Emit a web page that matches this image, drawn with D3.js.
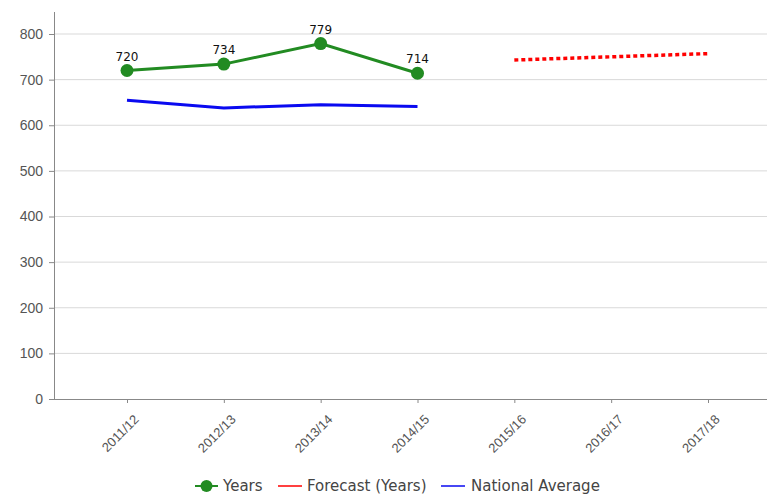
<!DOCTYPE html>
<html>
<head>
<meta charset="utf-8">
<script src="https://cdn.jsdelivr.net/npm/d3@7"></script>
<style>
  html, body { margin: 0; padding: 0; background: #fff; }
  svg { display: block; font-family: "DejaVu Sans", Verdana, sans-serif; }
</style>
</head>
<body>
<svg id="chart" width="767" height="495"></svg>
<script>
// Financial years on the category axis
const categories = ["2011/12", "2012/13", "2013/14", "2014/15", "2015/16", "2016/17", "2017/18"];
// Actual values (with point labels)
const yearsValues = [720, 734, 779, 714, null, null, null];
// Projected values
const forecastValues = [null, null, null, null, 743, 750, 757];
// National comparison
const nationalValues = [655, 638, 645, 641, null, null, null];
// Value axis ticks
const yTicks = [0, 100, 200, 300, 400, 500, 600, 700, 800];

(function () {
const svg = d3.select("#chart");
const plotLeft = 54, plotBottom = 399, plotTop = 12;

const x = d3.scalePoint().domain(categories).range([127, 708]);
const y = d3.scaleLinear().domain([0, 800]).range([plotBottom, 34]);

// Horizontal gridlines
svg.append("g").selectAll("line").data(yTicks.filter(d => d > 0)).join("line")
  .attr("x1", plotLeft).attr("x2", 767)
  .attr("y1", d => y(d)).attr("y2", d => y(d))
  .attr("stroke", "#d9d9d9").attr("stroke-width", 1);

// Y axis
const yAxis = svg.append("g").attr("transform", `translate(${plotLeft},0)`)
  .call(d3.axisLeft(y).tickValues(yTicks).tickSize(5).tickPadding(6));
yAxis.select(".domain").remove();
yAxis.selectAll(".tick line").attr("stroke", "#888");
yAxis.selectAll("text").attr("fill", "#555").attr("font-size", 14);
svg.append("line").attr("x1", plotLeft + 0.5).attr("x2", plotLeft + 0.5)
  .attr("y1", plotTop).attr("y2", plotBottom + 1).attr("stroke", "#888");

// X axis with slanted labels
const xAxis = svg.append("g").attr("transform", `translate(0,${plotBottom})`)
  .call(d3.axisBottom(x).tickSize(4));
xAxis.select(".domain").remove();
xAxis.selectAll(".tick line").attr("stroke", "#888");
xAxis.selectAll("text")
  .attr("fill", "#555").attr("font-size", 13)
  .attr("text-anchor", "end")
  .attr("x", 0).attr("y", 0).attr("dy", "0.35em")
  .attr("transform", "translate(9,18) rotate(-45)");
svg.append("line").attr("x1", plotLeft).attr("x2", 767)
  .attr("y1", plotBottom + 0.5).attr("y2", plotBottom + 0.5).attr("stroke", "#888");

const line = d3.line()
  .defined(d => d.v != null)
  .x(d => x(d.c)).y(d => y(d.v));
const pts = vals => categories.map((c, i) => ({ c, v: vals[i] }));

// National average
svg.append("path").datum(pts(nationalValues))
  .attr("d", line).attr("fill", "none")
  .attr("stroke", "#0a0af0").attr("stroke-width", 3);

// Forecast (dotted)
svg.append("path").datum(pts(forecastValues))
  .attr("d", line).attr("fill", "none")
  .attr("stroke", "#ff0000").attr("stroke-width", 3.5)
  .attr("stroke-dasharray", "4,3");

// Years
const yearPts = pts(yearsValues).filter(d => d.v != null);
svg.append("path").datum(yearPts)
  .attr("d", line).attr("fill", "none")
  .attr("stroke", "#228b22").attr("stroke-width", 3);
svg.append("g").selectAll("circle").data(yearPts).join("circle")
  .attr("cx", d => x(d.c)).attr("cy", d => y(d.v)).attr("r", 6.5)
  .attr("fill", "#228b22");
svg.append("g").selectAll("text").data(yearPts).join("text")
  .attr("x", d => x(d.c)).attr("y", d => y(d.v) - 10)
  .attr("text-anchor", "middle").attr("font-size", 12).attr("fill", "#111")
  .text(d => d.v);

// Legend
const legend = svg.append("g").attr("font-size", 15).attr("fill", "#444");
const ly = 486;
legend.append("line").attr("x1", 195).attr("x2", 218).attr("y1", ly).attr("y2", ly)
  .attr("stroke", "#228b22").attr("stroke-width", 2);
legend.append("circle").attr("cx", 206.5).attr("cy", ly).attr("r", 6).attr("fill", "#228b22");
legend.append("text").attr("x", 223).attr("y", ly).attr("dy", "0.35em").attr("fill", "#444").text("Years");
legend.append("line").attr("x1", 278).attr("x2", 302).attr("y1", ly).attr("y2", ly)
  .attr("stroke", "#ff0000").attr("stroke-width", 1.5);
legend.append("text").attr("x", 307).attr("y", ly).attr("dy", "0.35em").attr("fill", "#444").text("Forecast (Years)");
legend.append("line").attr("x1", 441).attr("x2", 465).attr("y1", ly).attr("y2", ly)
  .attr("stroke", "#0a0af0").attr("stroke-width", 1.5);
legend.append("text").attr("x", 471).attr("y", ly).attr("dy", "0.35em").attr("fill", "#444").text("National Average");
})();
</script>
</body>
</html>
